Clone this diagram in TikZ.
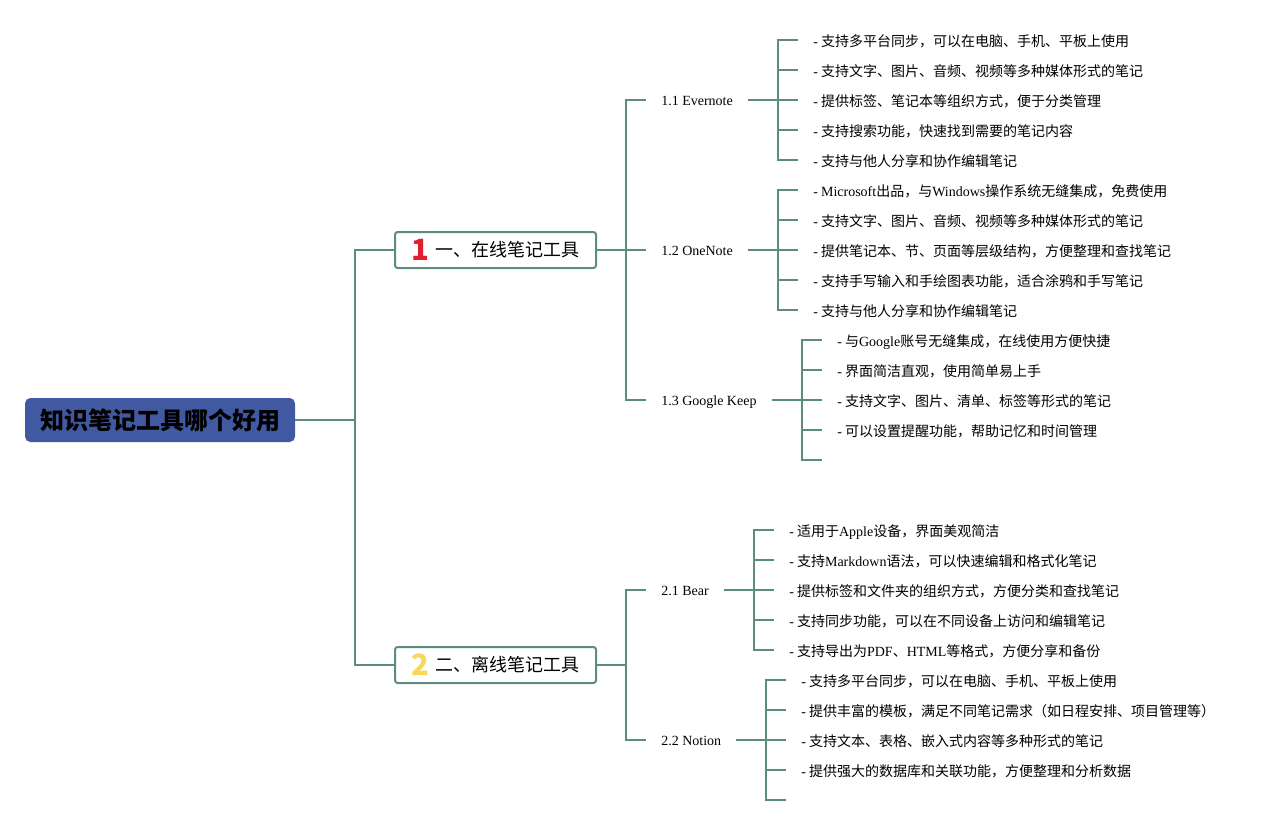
\documentclass[tikz,border=0pt]{standalone}
\usepackage{fontspec}
\setmainfont{Noto Sans CJK SC}
\newfontfamily\latin{Liberation Serif}
\newcommand{\en}[1]{{\latin #1}}
\definecolor{branch}{HTML}{5B8C7F}
\definecolor{rootblue}{HTML}{4159A0}
\definecolor{numred}{HTML}{E0202E}
\definecolor{numyellow}{HTML}{F6D85A}
\tikzset{
  link/.style     = {draw=branch, line width=1.5pt},
  rootbox/.style  = {fill=rootblue, rounded corners=4pt, minimum width=202.5pt,
                     minimum height=33pt, font=\bfseries\fontsize{18}{20}\selectfont},
  topic/.style    = {draw=branch, line width=1.5pt, fill=white, rounded corners=2pt,
                     minimum width=150.75pt, minimum height=27pt, text height=10pt,
                     text depth=0pt, font=\fontsize{13.5}{15}\selectfont},
  tool/.style     = {anchor=west, inner xsep=11.25pt, text height=8pt, text depth=0pt,
                     font=\latin\fontsize{10.5}{12}\selectfont},
  leaf/.style     = {anchor=west, inner xsep=11.25pt, text height=10pt, text depth=0pt,
                     font=\fontsize{10.5}{12}\selectfont},
}
\newcommand{\num}[2]{\raisebox{-3pt}{\textcolor{#1}{\bfseries\fontsize{22}{22}\selectfont #2}}\hspace{4pt}}
\begin{document}
\begin{tikzpicture}[x=0.75pt, y=-0.75pt]
  \useasboundingbox (0,0) rectangle (1276,825);
  % root and main topics
  \node[rootbox] (root) at (160,420)   {知识笔记工具哪个好用};
  \node[topic]   (b1)   at (495.5,250) {\num{numred}{1}一、在线笔记工具};
  \node[topic]   (b2)   at (495.5,665) {\num{numyellow}{2}二、离线笔记工具};
  \coordinate    (j0)   at (355,420);
  \draw[link] (root.east) -- (j0) |- (b1.west);
  \draw[link] (j0) |- (b2.west);
  % tools
  \node[tool] (ev) at (646,100) {1.1 Evernote};
  \node[tool] (on) at (646,250) {1.2 OneNote};
  \node[tool] (gk) at (646,400) {1.3 Google Keep};
  \node[tool] (be) at (646,590) {2.1 Bear};
  \node[tool] (no) at (646,740) {2.2 Notion};
  \coordinate (j1) at (626,250);
  \coordinate (j2) at (626,665);
  \draw[link] (b1.east) -- (j1);
  \draw[link] (b2.east) -- (j2);
  \foreach \t in {ev,on,gk} \draw[link] (j1) |- (\t.west);
  \foreach \t in {be,no}    \draw[link] (j2) |- (\t.west);
  % leaves: tool / junction x / y
  \foreach \n/\x/\y in {ev/778/100, on/778/250, gk/802/400, be/754/590, no/766/740} {
    \coordinate (j\n) at (\x,\y);
    \draw[link] (\n.east) -- (j\n);
  }
  \foreach \s [count=\i] in {%
      支持多平台同步，可以在电脑、手机、平板上使用,
      支持文字、图片、音频、视频等多种媒体形式的笔记,
      提供标签、笔记本等组织方式，便于分类管理,
      支持搜索功能，快速找到需要的笔记内容,
      支持与他人分享和协作编辑笔记} {
    \node[leaf] (ev\i) at (798,10+30*\i) {\en{-} \s};
    \draw[link] (jev) |- (ev\i.west);
  }
  \foreach \s [count=\i] in {%
      \en{Microsoft}出品，与\en{Windows}操作系统无缝集成，免费使用,
      支持文字、图片、音频、视频等多种媒体形式的笔记,
      提供笔记本、节、页面等层级结构，方便整理和查找笔记,
      支持手写输入和手绘图表功能，适合涂鸦和手写笔记,
      支持与他人分享和协作编辑笔记} {
    \node[leaf] (on\i) at (798,160+30*\i) {\en{-} \s};
    \draw[link] (jon) |- (on\i.west);
  }
  \foreach \s [count=\i] in {%
      与\en{Google}账号无缝集成，在线使用方便快捷,
      界面简洁直观，使用简单易上手,
      支持文字、图片、清单、标签等形式的笔记,
      可以设置提醒功能，帮助记忆和时间管理} {
    \node[leaf] (gk\i) at (822,310+30*\i) {\en{-} \s};
    \draw[link] (jgk) |- (gk\i.west);
  }
  \coordinate (gk5) at (822,460);
  \draw[link] (jgk) |- (gk5);
  \foreach \s [count=\i] in {%
      适用于\en{Apple}设备，界面美观简洁,
      支持\en{Markdown}语法，可以快速编辑和格式化笔记,
      提供标签和文件夹的组织方式，方便分类和查找笔记,
      支持同步功能，可以在不同设备上访问和编辑笔记,
      支持导出为\en{PDF}、\en{HTML}等格式，方便分享和备份} {
    \node[leaf] (be\i) at (774,500+30*\i) {\en{-} \s};
    \draw[link] (jbe) |- (be\i.west);
  }
  \foreach \s [count=\i] in {%
      支持多平台同步，可以在电脑、手机、平板上使用,
      提供丰富的模板，满足不同笔记需求（如日程安排、项目管理等）,
      支持文本、表格、嵌入式内容等多种形式的笔记,
      提供强大的数据库和关联功能，方便整理和分析数据} {
    \node[leaf] (no\i) at (786,650+30*\i) {\en{-} \s};
    \draw[link] (jno) |- (no\i.west);
  }
  \coordinate (no5) at (786,800);
  \draw[link] (jno) |- (no5);
\end{tikzpicture}
\end{document}
